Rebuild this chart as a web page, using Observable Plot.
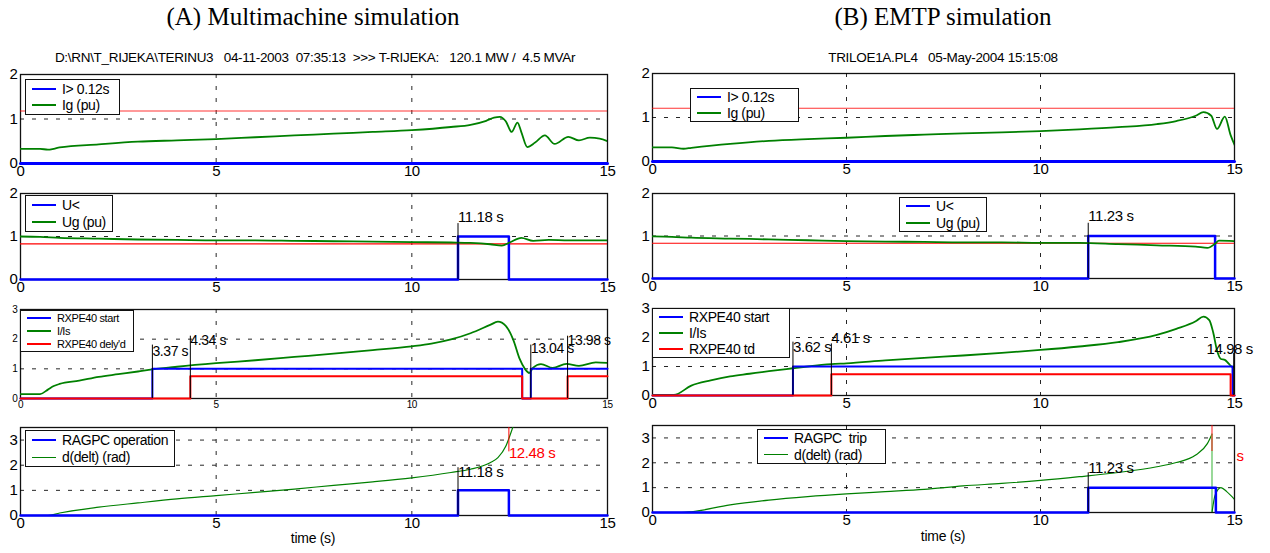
<!DOCTYPE html>
<html><head><meta charset="utf-8">
<script src="https://cdn.jsdelivr.net/npm/d3@7"></script>
<script src="https://cdn.jsdelivr.net/npm/@observablehq/plot@0.6"></script>
<style>
body{margin:0;background:#fff;}
#wrap{position:relative;width:1270px;height:553px;overflow:hidden;background:#fff;}
.abs{position:absolute;white-space:pre;}
.title{font-family:"Liberation Serif","Times New Roman",serif;font-size:25px;color:#000;transform:translateX(-50%);}
.sub{font-family:"Liberation Sans Narrow","Liberation Sans",Arial,sans-serif;font-size:13.5px;color:#000;transform:translateX(-50%);letter-spacing:-0.3px;}
.xl{font-family:"Liberation Sans Narrow","Liberation Sans",Arial,sans-serif;font-size:14px;transform:translateX(-50%);letter-spacing:-0.3px;}
.leg{position:absolute;background:#fff;border:1.5px solid #111;box-sizing:border-box;display:flex;flex-direction:column;justify-content:space-evenly;font-family:"Liberation Sans Narrow","Liberation Sans",Arial,sans-serif;letter-spacing:-0.4px;color:#000;}
.row{display:flex;align-items:center;white-space:pre;}
.sw{display:inline-block;width:24px;margin-left:6px;margin-right:6px;}
svg{position:absolute;}
</style>
</head><body><div id="wrap"></div>
<script>
// ---------- Data ----------
// (A) Multimachine, panel 1: Ig (pu)
const a1_t = [0,0.5,0.7,0.85,1,2,3,4,5,6,7,8,9,10,11,11.5,11.9,12.1,12.25,12.4,12.55,12.7,12.8,12.95,13.15,13.4,13.65,14.0,14.27,14.55,14.8,15];
const a1_v = [0.33,0.33,0.31,0.33,0.36,0.43,0.49,0.52,0.55,0.59,0.63,0.67,0.71,0.75,0.82,0.87,0.96,1.03,1.05,0.95,0.71,0.92,0.7,0.37,0.47,0.63,0.44,0.6,0.52,0.58,0.56,0.5];
const a1_lim = 1.18;
const a1_step_t = [0,15], a1_step_v = [0,0];
// panel 2: Ug (pu)
const a2_t = [0,0.5,1,2,3,4,5,6,7,8,9,10,11,11.5,12,12.3,12.5,12.8,13.1,13.5,14,15];
const a2_v = [1.0,0.99,0.97,0.95,0.93,0.92,0.91,0.91,0.9,0.89,0.88,0.87,0.86,0.85,0.82,0.79,0.86,0.97,0.9,0.92,0.91,0.91];
const a2_lim = 0.83;
const a2_step_t = [0,11.18,12.48,15], a2_step_v = [0,1,0,0];
// panel 3: I/Is
const a3_t = [0,0.5,0.7,0.85,1,1.5,2,2.5,3,3.37,4,5,6,7,8,9,10,10.5,11,11.5,12,12.2,12.4,12.6,12.75,12.9,13.0,13.1,13.3,13.6,13.95,14.27,14.7,15];
const a3_v = [0.15,0.15,0.3,0.42,0.49,0.6,0.73,0.82,0.91,0.98,1.07,1.19,1.29,1.4,1.51,1.63,1.76,1.85,1.99,2.2,2.48,2.59,2.45,1.95,1.35,0.98,0.86,1.04,1.16,1.03,1.17,1.1,1.22,1.2];
const a3_blue_t = [0,3.37,12.82,13.04,15], a3_blue_v = [0,1,0,1,1];
const a3_red_t = [0,4.34,12.82,13.98,15], a3_red_v = [0,0.75,0,0.75,0.75];
// panel 4: d(delt) (rad)
const a4_t = [0,0.7,1,2,3,4,5,6,7,8,9,10,11,11.5,12,12.2,12.4,12.5,12.6];
const a4_v = [0,0,0.1,0.33,0.5,0.66,0.79,0.92,1.05,1.2,1.34,1.5,1.71,1.84,2.1,2.3,2.75,3.15,3.6];
const a4_step_t = [0,11.18,12.48,15], a4_step_v = [0,1,0,0];

// (B) EMTP, panel 1
const b1_t = [0,0.5,0.8,1,2,3,4,5,6,7,8,9,10,11,12,13,13.5,14,14.2,14.4,14.55,14.75,14.9,15];
const b1_v = [0.32,0.32,0.29,0.31,0.4,0.47,0.51,0.54,0.58,0.61,0.64,0.66,0.69,0.73,0.78,0.85,0.92,1.04,1.12,1.04,0.74,1.02,0.6,0.38];
const b1_lim = 1.21;
const b1_step_t = [0,15], b1_step_v = [0,0];
// panel 2
const b2_t = [0,0.5,1,2,3,4,5,6,7,8,9,10,11,12,13,14,14.3,14.5,14.6,15];
const b2_v = [0.99,0.98,0.96,0.94,0.92,0.9,0.88,0.87,0.86,0.85,0.85,0.84,0.84,0.81,0.78,0.75,0.72,0.82,0.89,0.88];
const b2_lim = 0.83;
const b2_step_t = [0,11.23,14.5,15], b2_step_v = [0,1,0,0];
// panel 3
const b3_t = [0,0.55,1,1.5,2,2.5,3,3.62,4,4.61,5,6,7,8,9,10,11,12,13,13.5,14,14.2,14.35,14.45,14.55,14.65,14.75,14.85,14.95,15];
const b3_v = [0.02,0.02,0.34,0.52,0.66,0.75,0.84,0.94,1.0,1.08,1.11,1.21,1.3,1.38,1.47,1.57,1.69,1.84,2.09,2.3,2.56,2.72,2.6,2.18,1.55,1.26,1.23,1.1,0.98,1.0];
const b3_blue_t = [0,3.62,14.95,15], b3_blue_v = [0,1,0,0];
const b3_red_t = [0,4.61,14.9,15], b3_red_v = [0,0.73,0,0];
// panel 4
const b4_t = [0,0.75,1,2,3,4,5,6,7,8,9,10,11,12,13,13.5,14,14.3,14.42];
const b4_v = [0,0,0.03,0.31,0.5,0.64,0.75,0.84,0.93,1.07,1.17,1.29,1.44,1.61,1.84,2.01,2.31,2.77,3.15];
const b4b_t = [14.42,14.5,14.65,14.8,15];
const b4b_v = [0,0.7,1.0,0.84,0.53];
const b4_step_t = [0,11.23,14.52,15], b4_step_v = [0,1,0,0];

// annotation markers: time, line top, label y
const a2_ann = {t:[11.18], top:[1.3], ly:[1.45], label:["11.18 s"]};
const a3_ann = {t:[3.37,4.34,13.04,13.98], top:[1.8,2.1,1.8,2.1], ly:[1.6,1.97,1.68,1.97], label:["3.37 s","4.34 s","13.04 s","13.98 s"]};
const a4_ann = {t:[11.18], top:[1.9], ly:[1.73], label:["11.18 s"]};
const a4_red = {t:[12.48], y1:[2.53], y2:[3.5], ly:[2.47], label:["12.48 s"]};
const b2_ann = {t:[11.23], top:[1.3], ly:[1.47], label:["11.23 s"]};
const b3_ann = {t:[3.62,4.61,14.98], top:[1.84,1.78,1.45], ly:[1.67,1.99,1.61], label:["3.62 s","4.61 s","14.98 s"]};
const b4_ann = {t:[11.23], top:[1.6], ly:[1.77], label:["11.23 s"]};
const b4_red = {t:[14.42], y1:[2.45], y2:[3.5], ly:[2.25], label:["s"]};

// ---------- helpers ----------
const FONT = '"Liberation Sans Narrow","Liberation Sans",Arial,sans-serif';
const wrap = document.getElementById("wrap");
const pts = (t, v) => t.map((x, i) => ({t: x, v: v[i]}));
const GREEN = "#008000", BLUE = "#0000ff", RED = "#ff0000";
const intFmt = d3.format("d");

function grid(ys) {
  return [
    Plot.ruleX([5, 10], {stroke: "#000", strokeWidth: 1, strokeDasharray: "4,8", strokeOpacity: 0.85}),
    Plot.ruleY(ys, {stroke: "#000", strokeWidth: 1, strokeDasharray: "4,8", strokeOpacity: 0.85})
  ];
}
function annMarks(a, color, fs, anchors, ls = "-0.4px") {
  const d = a.t.map((t, i) => ({t, y1: a.y1 ? a.y1[i] : 0, y2: a.y2 ? a.y2[i] : a.top[i], ly: a.ly[i], label: a.label[i], anchor: anchors ? anchors[i] : "start"}));
  const ms = [Plot.ruleX(d, {x: "t", y1: "y1", y2: "y2", stroke: color, strokeWidth: 1})];
  for (const anc of ["start", "middle"]) {
    ms.push(Plot.text(d.filter(e => e.anchor === anc), {x: "t", y: "ly", text: "label", textAnchor: anc, dx: anc === "start" ? 0 : -4, fill: color, fontSize: fs, stroke: null, style: {letterSpacing: ls}}));
  }
  return ms;
}
function panel({left, frameL, frameR, top, bottom, ydom, yticks, fs, marks}) {
  const mt = 14, mb = 30, W = 635;
  const p = Plot.plot({
    width: W, height: bottom - top + mt + mb,
    marginLeft: frameL - left, marginRight: left + W - frameR, marginTop: mt, marginBottom: mb,
    x: {domain: [0, 15], ticks: [0, 5, 10, 15], tickFormat: intFmt, tickSize: 0, tickPadding: 2, label: null},
    y: {domain: ydom, ticks: yticks, tickFormat: intFmt, tickSize: 0, tickPadding: 3, label: null},
    style: {fontFamily: FONT, fontSize: fs + "px", color: "#000", background: "transparent", overflow: "visible", letterSpacing: "-0.4px"},
    marks: [Plot.frame({stroke: "#111", strokeWidth: 1.3}), ...marks]
  });
  p.style.left = left + "px";
  p.style.top = (top - mt) + "px";
  wrap.appendChild(p);
}
function legend(x, y, w, h, items, fs) {
  const d = document.createElement("div");
  d.className = "leg";
  Object.assign(d.style, {left: x + "px", top: y + "px", width: w + "px", height: h + "px", fontSize: fs + "px"});
  for (const it of items) {
    const r = document.createElement("div"); r.className = "row";
    const s = document.createElement("span"); s.className = "sw";
    s.style.borderTop = it.w + "px solid " + it.c;
    r.appendChild(s); r.appendChild(document.createTextNode(it.label));
    d.appendChild(r);
  }
  wrap.appendChild(d);
}
function label(cls, x, y, text) {
  const d = document.createElement("div");
  d.className = "abs " + cls; d.style.left = x + "px"; d.style.top = y + "px"; d.textContent = text;
  wrap.appendChild(d);
}
const line = (t, v, stroke, w, curve = "monotone-x") => Plot.line(pts(t, v), {x: "t", y: "v", stroke, strokeWidth: w, curve, clip: true});
const step = (t, v, stroke, w) => Plot.line(pts(t, v), {x: "t", y: "v", stroke, strokeWidth: w, curve: "step-after"});

// ---------- titles ----------
label("title", 313, 3, "(A) Multimachine simulation");
label("title", 943, 3, "(B) EMTP simulation");
label("sub", 315, 50, "D:\\RN\\T_RIJEKA\\TERINU3   04-11-2003  07:35:13  >>> T-RIJEKA:   120.1 MW /  4.5 MVAr");
label("sub", 943, 50, "TRILOE1A.PL4   05-May-2004 15:15:08");

// ---------- left column ----------
const LA = {left: 0, frameL: 20, frameR: 607};
panel({...LA, top: 74, bottom: 163, ydom: [0, 2], yticks: [0, 1, 2], fs: 15, marks: [
  ...grid([1]),
  Plot.ruleY([a1_lim], {stroke: RED, strokeWidth: 1.2, strokeOpacity: 0.8}),
  line(a1_t, a1_v, GREEN, 1.8),
  step(a1_step_t, a1_step_v, BLUE, 3)
]});
panel({...LA, top: 193, bottom: 279, ydom: [0, 2], yticks: [0, 1, 2], fs: 15, marks: [
  ...grid([1]),
  Plot.ruleY([a2_lim], {stroke: RED, strokeWidth: 1.2}),
  step(a2_step_t, a2_step_v, BLUE, 2.5),
  line(a2_t, a2_v, GREEN, 1.8),
  ...annMarks(a2_ann, "#000", 15)
]});
panel({...LA, top: 309, bottom: 398, ydom: [0, 3], yticks: [0, 1, 2, 3], fs: 10, marks: [
  ...grid([1, 2]),
  line(a3_t, a3_v, GREEN, 1.8),
  step(a3_blue_t, a3_blue_v, BLUE, 2),
  step(a3_red_t, a3_red_v, RED, 2),
  ...annMarks(a3_ann, "#000", 14, null, "-0.8px")
]});
panel({...LA, top: 427, bottom: 515, ydom: [0, 3.5], yticks: [0, 1, 2, 3], fs: 15, marks: [
  ...grid([1, 2, 3]),
  line(a4_t, a4_v, GREEN, 1.2),
  step(a4_step_t, a4_step_v, BLUE, 2.5),
  ...annMarks(a4_ann, "#000", 15),
  ...annMarks(a4_red, RED, 15)
]});

// ---------- right column ----------
const RB = {left: 635, frameL: 652, frameR: 1234};
panel({...RB, top: 73, bottom: 161, ydom: [0, 2], yticks: [0, 1, 2], fs: 15, marks: [
  ...grid([1]),
  Plot.ruleY([b1_lim], {stroke: RED, strokeWidth: 1.2, strokeOpacity: 0.8}),
  line(b1_t, b1_v, GREEN, 1.8),
  step(b1_step_t, b1_step_v, BLUE, 3)
]});
panel({...RB, top: 193, bottom: 278, ydom: [0, 2], yticks: [0, 1, 2], fs: 15, marks: [
  ...grid([1]),
  Plot.ruleY([b2_lim], {stroke: RED, strokeWidth: 1.2}),
  step(b2_step_t, b2_step_v, BLUE, 2.5),
  line(b2_t, b2_v, GREEN, 1.8),
  ...annMarks(b2_ann, "#000", 15)
]});
panel({...RB, top: 308, bottom: 395, ydom: [0, 3], yticks: [0, 1, 2, 3], fs: 15, marks: [
  ...grid([1, 2]),
  line(b3_t, b3_v, GREEN, 1.8),
  step(b3_blue_t, b3_blue_v, BLUE, 2),
  step(b3_red_t, b3_red_v, RED, 2),
  ...annMarks(b3_ann, "#000", 15, ["start", "start", "middle"])
]});
panel({...RB, top: 425, bottom: 512, ydom: [0, 3.5], yticks: [0, 1, 2, 3], fs: 15, marks: [
  ...grid([1, 2, 3]),
  line(b4_t, b4_v, GREEN, 1.2),
  Plot.ruleX([b4_t[b4_t.length - 1]], {y1: 0, y2: b4_v[b4_v.length - 1], stroke: "#7c7", strokeWidth: 1.5}),
  line(b4b_t, b4b_v, GREEN, 1.2),
  step(b4_step_t, b4_step_v, BLUE, 2.5),
  Plot.ruleX(b4_red.t, {y1: b4_red.y1[0], y2: b4_red.y2[0], stroke: RED, strokeWidth: 1.5, strokeOpacity: 0.6}),
  Plot.text(b4_red.label, {x: 15, y: b4_red.ly[0], text: d => d, textAnchor: "start", dx: 2, fill: RED, fontSize: 15}),
  ...annMarks(b4_ann, "#000", 15)
]});

// ---------- x labels ----------
label("xl", 313, 530, "time (s)");
label("xl", 943, 528, "time (s)");

// ---------- legends ----------
legend(25, 79, 95, 36, [{label: "I> 0.12s", c: BLUE, w: 2.5}, {label: "Ig (pu)", c: GREEN, w: 2}], 14);
legend(25, 195, 88, 37, [{label: "U<", c: BLUE, w: 2.5}, {label: "Ug (pu)", c: GREEN, w: 2}], 14);
legend(20, 310, 114, 42, [{label: "RXPE40 start", c: BLUE, w: 2}, {label: "I/Is", c: GREEN, w: 2}, {label: "RXPE40 dely'd", c: RED, w: 2}], 11);
legend(25, 430, 150, 37, [{label: "RAGPC operation", c: BLUE, w: 2.5}, {label: "d(delt) (rad)", c: GREEN, w: 1.2}], 14);
legend(690, 88, 109, 34, [{label: "I> 0.12s", c: BLUE, w: 2.5}, {label: "Ig (pu)", c: GREEN, w: 2}], 14);
legend(899, 197, 88, 35, [{label: "U<", c: BLUE, w: 2.5}, {label: "Ug (pu)", c: GREEN, w: 2}], 14);
legend(652, 308, 138, 50, [{label: "RXPE40 start", c: BLUE, w: 2}, {label: "I/Is", c: GREEN, w: 2}, {label: "RXPE40 td", c: RED, w: 2}], 14);
legend(757, 429, 129, 35, [{label: "RAGPC  trip", c: BLUE, w: 2.5}, {label: "d(delt) (rad)", c: GREEN, w: 1.2}], 14);
</script>
</body></html>
